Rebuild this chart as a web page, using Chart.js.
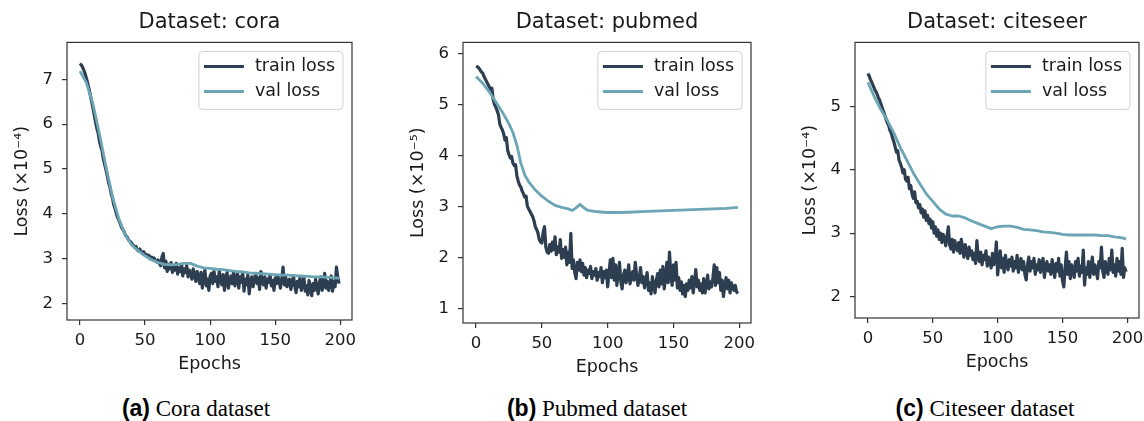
<!DOCTYPE html>
<html>
<head>
<meta charset="utf-8">
<script src="https://cdn.jsdelivr.net/npm/chart.js@4.4.0/dist/chart.umd.min.js"></script>
<style>
  body { margin: 0; background: #fff; }
  #page { position: relative; width: 1144px; height: 421px; overflow: hidden; background: #fff; }
  canvas { position: absolute; top: 0; }
  .caption { position: absolute; top: 395px; line-height: 26px; font-family: 'Liberation Serif', 'Times New Roman', serif; font-size: 23px; color: #000; white-space: nowrap; transform: translateX(-50%); }
  .caption b { font-family: 'Liberation Sans', Arial, sans-serif; }
</style>
</head>
<body>
<div id="page">
  <canvas id="chartCora" width="380" height="380" style="left:0px"></canvas>
  <canvas id="chartPubmed" width="383" height="383" style="left:396px"></canvas>
  <canvas id="chartCiteseer" width="356" height="378" style="left:788px"></canvas>
  <div class="caption" style="left:196px"><b>(a)</b> Cora dataset</div>
  <div class="caption" style="left:597px"><b>(b)</b> Pubmed dataset</div>
  <div class="caption" style="left:985px"><b>(c)</b> Citeseer dataset</div>
</div>
<script>
// Axes ticks
const xTicks = [0, 50, 100, 150, 200];
const coraYTicks = [2, 3, 4, 5, 6, 7];
const pubmedYTicks = [1, 2, 3, 4, 5, 6];
const citeseerYTicks = [2, 3, 4, 5];

// Train loss, one value per epoch (0..199)
const coraTrain = [
  7.35, 7.32, 7.27, 7.2, 7.12, 7.02, 6.9, 6.78, 6.64, 6.5,
  6.36, 6.2, 6.05, 5.9, 5.8, 5.62, 5.5, 5.4, 5.22, 5.1,
  4.98, 4.85, 4.7, 4.6, 4.45, 4.35, 4.2, 4.12, 4.0, 3.92,
  3.85, 3.78, 3.7, 3.65, 3.6, 3.52, 3.5, 3.44, 3.4, 3.38,
  3.33, 3.3, 3.26, 3.28, 3.2, 3.18, 3.22, 3.15, 3.12, 3.16,
  3.08, 3.1, 3.05, 3.08, 3.0, 3.04, 2.98, 3.02, 2.95, 2.93,
  2.98, 2.9, 2.85, 3.05, 3.12, 2.8, 2.95, 2.72, 2.88, 2.78,
  2.92, 2.7, 2.85, 2.75, 2.9, 2.66, 2.8, 2.72, 2.88, 2.62,
  2.78, 2.7, 2.85, 2.6, 2.75, 2.68, 2.55, 2.78, 2.65, 2.5,
  2.72, 2.62, 2.45, 2.7, 2.35, 2.6, 2.75, 2.4, 2.55, 2.3,
  2.62, 2.68, 2.45, 2.72, 2.5, 2.6, 2.38, 2.75, 2.55, 2.42,
  2.65, 2.3, 2.58, 2.7, 2.35, 2.5, 2.62, 2.45, 2.72, 2.4,
  2.55, 2.68, 2.35, 2.6, 2.48, 2.7, 2.28, 2.55, 2.42, 2.65,
  2.22, 2.5, 2.6, 2.38, 2.55, 2.68, 2.45, 2.58, 2.32, 2.72,
  2.5, 2.42, 2.6, 2.35, 2.55, 2.48, 2.65, 2.4, 2.52, 2.3,
  2.58, 2.45, 2.62, 2.5, 2.35, 2.55, 2.82, 2.42, 2.6, 2.38,
  2.5, 2.55, 2.32, 2.48, 2.62, 2.4, 2.25, 2.5, 2.38, 2.6,
  2.3, 2.45, 2.58, 2.28, 2.4, 2.2, 2.52, 2.35, 2.18, 2.45,
  2.3, 2.55, 2.38, 2.22, 2.48, 2.6, 2.3, 2.42, 2.68, 2.35,
  2.5, 2.3, 2.45, 2.62, 2.28, 2.5, 2.38, 2.82, 2.6, 2.45
];
const pubmedTrain = [
  5.75, 5.74, 5.72, 5.68, 5.64, 5.62, 5.55, 5.5, 5.45, 5.4,
  5.35, 5.3, 5.32, 5.1, 5.0, 4.95, 4.88, 4.8, 4.62, 4.55,
  4.5, 4.42, 4.3, 4.35, 4.1, 4.02, 3.95, 3.98, 3.85, 3.8,
  3.82, 3.6, 3.5, 3.42, 3.38, 3.3, 3.25, 3.18, 3.2, 3.0,
  2.95, 2.9, 2.85, 2.8, 2.72, 2.6, 2.55, 2.48, 2.35, 2.3,
  2.28, 2.5, 2.6, 2.2, 2.1, 2.08, 2.25, 2.12, 2.3, 2.15,
  2.4, 2.05, 2.2, 2.1, 2.35, 1.98, 2.15, 2.0, 2.2, 1.85,
  2.1, 1.9, 2.47, 1.78, 1.95, 1.7, 1.58, 1.9, 1.75, 1.95,
  1.72, 1.88, 1.65, 1.8, 1.6, 1.75, 1.68, 1.82, 1.58, 1.72,
  1.65, 1.78, 1.55, 1.7, 1.62, 1.8, 1.5, 1.72, 1.6, 1.75,
  1.42, 1.68, 1.95, 1.6, 1.98, 1.55, 1.85, 1.45, 1.7, 1.9,
  1.52, 1.38, 1.65, 1.75, 1.5, 1.62, 1.85, 1.48, 1.6, 1.72,
  1.55, 1.9, 1.65, 1.45, 1.58, 1.8, 1.5, 1.62, 1.4, 1.55,
  1.7, 1.35, 1.5, 1.28, 1.62, 1.45, 1.3, 1.55, 1.68, 1.42,
  1.75, 1.48, 1.82, 1.38, 1.6, 1.9, 1.5, 2.1, 1.65, 1.45,
  1.85, 1.55, 1.9, 1.4, 1.6, 1.35, 1.52, 1.28, 1.45, 1.23,
  1.48, 1.35, 1.55, 1.4, 1.62, 1.3, 1.5, 1.76, 1.42, 1.55,
  1.35, 1.48, 1.3, 1.58, 1.3, 1.45, 1.65, 1.38, 1.52, 1.42,
  1.6, 1.85, 1.45, 1.8, 1.5, 1.7, 1.35, 1.55, 1.23, 1.45,
  1.6, 1.38, 1.55, 1.3, 1.5, 1.42, 1.35, 1.45, 1.32, 1.29
];
const citeseerTrain = [
  5.52, 5.48, 5.42, 5.38, 5.33, 5.28, 5.24, 5.2, 5.14, 5.1,
  5.04, 4.98, 4.92, 4.86, 4.8, 4.74, 4.7, 4.62, 4.58, 4.5,
  4.44, 4.36, 4.28, 4.3, 4.15, 4.1, 4.04, 3.95, 4.0, 3.85,
  3.82, 3.88, 3.7, 3.75, 3.62, 3.55, 3.65, 3.48, 3.5, 3.4,
  3.45, 3.32, 3.38, 3.25, 3.35, 3.2, 3.28, 3.15, 3.22, 3.08,
  3.18, 3.0, 3.1, 2.95, 3.05, 2.9, 3.0, 2.85, 2.98, 2.92,
  2.8, 2.95, 3.1, 2.82, 2.75, 2.9, 2.7, 2.88, 2.78, 2.72,
  2.85, 2.68, 2.9, 2.75, 2.62, 2.82, 2.7, 2.6, 2.78, 2.65,
  2.72, 2.58, 2.68, 2.52, 2.88, 2.62, 2.55, 2.7, 2.5, 2.65,
  2.58, 2.72, 2.48, 2.62, 2.55, 2.45, 2.68, 2.5, 2.58, 2.86,
  2.34, 2.55, 2.72, 2.45, 2.6, 2.38, 2.65, 2.5, 2.42, 2.58,
  2.48, 2.62, 2.4, 2.55, 2.45, 2.65, 2.38, 2.52, 2.6, 2.42,
  2.55, 2.35, 2.26, 2.5, 2.62, 2.4, 2.55, 2.45, 2.6, 2.35,
  2.5, 2.42, 2.58, 2.38, 2.52, 2.6, 2.3, 2.48, 2.55, 2.4,
  2.5, 2.35, 2.58, 2.45, 2.3, 2.52, 2.4, 2.6, 2.32, 2.5,
  2.25, 2.15, 2.45, 2.7, 2.35, 2.55, 2.28, 2.5, 2.42, 2.3,
  2.55, 2.4, 2.6, 2.32, 2.48, 2.38, 2.73, 2.18, 2.45, 2.35,
  2.55, 2.3, 2.48, 2.62, 2.35, 2.5, 2.4, 2.28, 2.55, 2.45,
  2.78, 2.4, 2.3, 2.55, 2.45, 2.35, 2.6, 2.42, 2.73, 2.38,
  2.5, 2.32, 2.6, 2.4, 2.55, 2.35, 2.76, 2.3, 2.45, 2.39
];

// Validation loss (smooth), sampled at these epochs
const coraValEpochs = [0, 5, 10, 15, 20, 25, 30, 35, 40, 45, 50, 55, 60, 65, 70, 75, 80, 85, 90, 95,
  100, 105, 110, 115, 120, 125, 130, 135, 140, 145, 150, 155, 160, 165, 170, 175, 180, 185, 190, 195, 199];
const coraVal = [7.18, 6.92, 6.45, 5.78, 5.05, 4.38, 3.88, 3.52, 3.3, 3.18,
  3.07, 2.98, 2.92, 2.88, 2.87, 2.88, 2.9, 2.9, 2.84, 2.8,
  2.79, 2.77, 2.76, 2.74, 2.72, 2.71, 2.69, 2.68, 2.67, 2.66,
  2.65, 2.64, 2.64, 2.63, 2.62, 2.61, 2.6, 2.6, 2.59, 2.58, 2.57];

const pubmedValEpochs = [0, 5, 10, 15, 20, 25, 28, 31, 34, 37, 40, 45, 50, 55, 60, 65, 70, 73, 76, 79, 82, 85,
  90, 95, 100, 110, 120, 130, 140, 150, 160, 170, 180, 190, 199];
const pubmedVal = [5.55, 5.42, 5.25, 5.05, 4.85, 4.62, 4.45, 4.2, 3.85, 3.62, 3.48, 3.32, 3.2, 3.1, 3.02, 2.98, 2.95,
  2.92, 2.97, 3.04, 2.97, 2.92, 2.9, 2.89, 2.88, 2.88, 2.89, 2.9, 2.91, 2.92, 2.93, 2.94, 2.95, 2.96, 2.98];

const citeseerValEpochs = [0, 5, 10, 15, 20, 25, 30, 35, 40, 45, 50, 55, 60, 65, 70, 75, 80, 85, 90, 95,
  100, 105, 110, 115, 120, 125, 130, 135, 140, 145, 150, 155, 160, 165, 170, 175, 180, 185, 190, 195, 199];
const citeseerVal = [5.38, 5.15, 4.95, 4.78, 4.58, 4.35, 4.15, 3.95, 3.78, 3.62,
  3.5, 3.38, 3.3, 3.27, 3.27, 3.24, 3.19, 3.15, 3.11, 3.07,
  3.1, 3.11, 3.11, 3.09, 3.06, 3.05, 3.04, 3.02, 3.01, 3.0,
  2.98, 2.97, 2.97, 2.97, 2.97, 2.97, 2.96, 2.96, 2.94, 2.93, 2.91];

const TRAIN_COLOR = '#2c3e50';
const VAL_COLOR = '#6ca5b5';
const AXIS_COLOR = '#333333';
const TEXT_COLOR = '#1a1a1a';
const FONT = "'DejaVu Sans', sans-serif";

// Cadre autour de la zone de tracé (4 côtés)
const framePlugin = {
    id: 'frame',
    afterDatasetsDraw(chart) {
        const { ctx, chartArea: a } = chart;
        ctx.save();
        ctx.strokeStyle = AXIS_COLOR;
        ctx.lineWidth = 1.2;
        ctx.strokeRect(a.left, a.top, a.right - a.left, a.bottom - a.top);
        ctx.restore();
    }
};

// Légende encadrée en haut à droite, façon matplotlib
const legendBoxPlugin = {
    id: 'legendBox',
    afterDraw(chart) {
        const { ctx, chartArea: a } = chart;
        const sets = chart.data.datasets;
        ctx.save();
        ctx.font = "17.5px " + FONT;
        const textW = Math.max(...sets.map(d => ctx.measureText(d.label).width));
        const w = 5 + 40 + 11 + textW + 8;
        const h = 58;
        const left = a.right - 9 - w;
        const top = a.top + 9;
        ctx.beginPath();
        ctx.roundRect(left, top, w, h, 4);
        ctx.fillStyle = 'rgba(255,255,255,0.8)';
        ctx.fill();
        ctx.strokeStyle = '#d0d0d0';
        ctx.lineWidth = 1;
        ctx.stroke();
        sets.forEach((d, i) => {
            const y = top + 15 + i * 25;
            ctx.beginPath();
            ctx.moveTo(left + 5, y);
            ctx.lineTo(left + 45, y);
            ctx.strokeStyle = d.borderColor;
            ctx.lineWidth = 3;
            ctx.stroke();
            ctx.fillStyle = TEXT_COLOR;
            ctx.textBaseline = 'middle';
            ctx.textAlign = 'left';
            ctx.fillText(d.label, left + 56, y);
        });
        ctx.restore();
    }
};

function makeChart(canvasId, titre, yLabel, train, valEpochs, val, yMin, yMax, yTicks, padRight) {
    const canvas = document.getElementById(canvasId);
    if (!canvas) {
        console.error("Canvas introuvable : " + canvasId);
        return;
    }

    return new Chart(canvas, {
        type: 'line',
        data: {
            datasets: [{
                label: 'train loss',
                data: train.map((v, i) => ({ x: i, y: v })),
                borderColor: TRAIN_COLOR,
                borderWidth: 3.2,
                pointRadius: 0,
                borderJoinStyle: 'round',
                order: 2
            }, {
                label: 'val loss',
                data: valEpochs.map((e, i) => ({ x: e, y: val[i] })),
                borderColor: VAL_COLOR,
                borderWidth: 2.8,
                pointRadius: 0,
                borderJoinStyle: 'round',
                order: 1
            }]
        },
        options: {
            responsive: false,
            animation: false,
            events: [],
            layout: { padding: { left: 0, right: padRight, top: 0, bottom: 0 } },
            plugins: {
                legend: { display: false },
                tooltip: { enabled: false },
                title: {
                    display: true,
                    text: titre,
                    fullSize: false,
                    color: TEXT_COLOR,
                    font: { family: FONT, size: 21, weight: 'normal' },
                    padding: { top: 10.4, bottom: 6.8 }
                }
            },
            scales: {
                x: {
                    type: 'linear',
                    min: -9.95,
                    max: 208.95,
                    afterBuildTicks: s => { s.ticks = xTicks.map(v => ({ value: v })); },
                    afterFit: s => { s.height = 60; s.paddingLeft = 0; s.paddingRight = 0; },
                    grid: { drawOnChartArea: false, drawTicks: true, tickLength: 5, color: AXIS_COLOR, lineWidth: 1.2 },
                    border: { display: false },
                    ticks: { color: TEXT_COLOR, font: { family: FONT, size: 16.5 }, padding: 6, maxRotation: 0, autoSkip: false },
                    title: { display: true, text: 'Epochs', color: TEXT_COLOR, font: { family: FONT, size: 17.5 }, padding: { top: 0, bottom: 5 } }
                },
                y: {
                    type: 'linear',
                    min: yMin,
                    max: yMax,
                    afterBuildTicks: s => { s.ticks = yTicks.map(v => ({ value: v })); },
                    afterFit: s => { s.width = 67; s.paddingTop = 0; s.paddingBottom = 0; },
                    grid: { drawOnChartArea: false, drawTicks: true, tickLength: 5, color: AXIS_COLOR, lineWidth: 1.2 },
                    border: { display: false },
                    ticks: { color: TEXT_COLOR, font: { family: FONT, size: 16.5 }, padding: 9 },
                    title: { display: true, text: yLabel, color: TEXT_COLOR, font: { family: FONT, size: 17.5 }, padding: { top: 12, bottom: 0 } }
                }
            }
        },
        plugins: [framePlugin, legendBoxPlugin]
    });
}

makeChart('chartCora', 'Dataset: cora', 'Loss (×10⁻⁴)', coraTrain, coraValEpochs, coraVal, 1.64, 7.82, coraYTicks, 28);
makeChart('chartPubmed', 'Dataset: pubmed', 'Loss (×10⁻⁵)', pubmedTrain, pubmedValEpochs, pubmedVal, 0.71, 6.22, pubmedYTicks, 28);
makeChart('chartCiteseer', 'Dataset: citeseer', 'Loss (×10⁻⁴)', citeseerTrain, citeseerValEpochs, citeseerVal, 1.66, 6.01, citeseerYTicks, 5);
</script>
</body>
</html>
